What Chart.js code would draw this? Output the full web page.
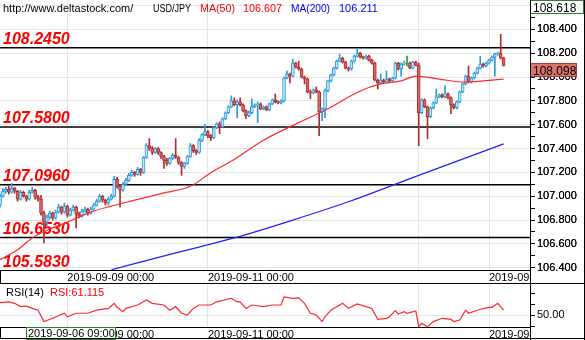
<!DOCTYPE html>
<html><head><meta charset="utf-8">
<script src="https://cdn.jsdelivr.net/npm/chart.js@4.4.1/dist/chart.umd.min.js"></script>
<style>
html,body{margin:0;padding:0;background:#fff;overflow:hidden}
#wrap{position:relative;width:585px;height:340px;background:#fff}
#main{position:absolute;left:0;top:0}
#rsi{position:absolute;left:0;top:283px}
</style></head><body>
<div id="wrap">
<canvas id="main" width="585" height="283"></canvas>
<canvas id="rsi" width="585" height="57"></canvas>
</div>
<script>
// ---------- data ----------
const sourceText = 'http://www.deltastock.com/';
const symbol = 'USD/JPY';
const ma50Now = '106.607';
const ma200Now = '106.211';
const rsiNow = '61.115';
const topPrice = 108.618;
const lastPrice = 108.098;
const cursorLabel = '2019-09-06 09:00';

const tradingDays = ['2019-09-06','2019-09-09','2019-09-10','2019-09-11','2019-09-12','2019-09-13','2019-09-16','2019-09-17'];
const firstHour = 1;   // first candle on first day
const lastSlotHour = 14; // last empty slot on last day

const open = [
106.925,107.000,107.042,107.058,107.033,107.067,107.042,106.975,107.033,107.000,
106.975,107.033,107.050,106.992,106.975,106.858,106.783,106.825,106.858,106.817,
106.867,106.908,106.867,106.917,106.842,106.883,106.908,106.850,106.833,106.875,
106.892,106.858,106.892,106.925,106.958,107.000,106.967,106.942,106.975,107.000,
107.142,107.083,107.050,107.100,107.133,107.175,107.200,107.183,107.225,107.200,
107.325,107.425,107.400,107.367,107.400,107.367,107.333,107.300,107.275,107.317,
107.342,107.325,107.283,107.250,107.275,107.333,107.425,107.383,107.367,107.467,
107.517,107.542,107.508,107.492,107.575,107.608,107.583,107.650,107.700,107.750,
107.800,107.767,107.792,107.767,107.717,107.675,107.700,107.750,107.767,107.775,
107.733,107.750,107.725,107.775,107.808,107.792,107.783,107.800,107.992,108.025,
108.008,108.117,108.083,108.067,108.000,107.983,107.875,107.867,107.892,107.875,
107.708,107.733,107.883,107.967,108.017,108.075,108.133,108.158,108.125,108.075,
108.067,108.133,108.175,108.200,108.167,108.158,108.175,108.142,108.117,107.975,
107.950,107.975,107.958,107.983,107.967,107.992,108.117,108.067,108.108,108.117,
108.117,108.075,108.125,108.100,107.700,107.808,107.750,107.667,107.742,107.783,
107.833,107.850,107.833,107.858,107.825,107.767,107.742,107.792,107.875,107.942,
108.008,107.958,107.992,108.033,108.075,108.108,108.092,108.117,108.142,108.167,
108.192,108.200,108.158];
const high = [
107.017,107.067,107.075,107.083,107.108,107.075,107.050,107.050,107.042,107.008,
107.050,107.075,107.058,107.008,107.008,106.875,106.842,106.875,106.867,106.883,
106.933,106.917,106.942,106.925,106.900,106.925,106.917,106.867,106.892,106.908,
106.900,106.908,106.942,106.975,107.017,107.008,106.975,106.992,107.017,107.167,
107.158,107.100,107.117,107.150,107.192,107.217,107.208,107.242,107.233,107.333,
107.442,107.483,107.417,107.408,107.408,107.375,107.342,107.317,107.325,107.358,
107.483,107.333,107.292,107.283,107.342,107.442,107.433,107.392,107.483,107.525,
107.600,107.550,107.517,107.583,107.617,107.625,107.658,107.708,107.758,107.842,
107.825,107.808,107.825,107.775,107.725,107.717,107.817,107.775,107.792,107.783,
107.758,107.758,107.783,107.817,107.858,107.800,107.808,108.000,108.050,108.033,
108.150,108.125,108.133,108.075,108.008,107.992,107.892,107.900,107.917,107.883,
107.742,107.900,107.975,108.025,108.083,108.142,108.192,108.167,108.133,108.083,
108.142,108.183,108.242,108.208,108.175,108.183,108.183,108.150,108.125,107.983,
108.025,107.983,108.050,107.992,108.000,108.125,108.125,108.117,108.133,108.175,
108.125,108.133,108.133,108.117,107.817,107.817,107.758,107.750,107.792,107.900,
107.858,107.858,107.925,107.867,107.833,107.775,107.800,107.883,107.950,108.017,
108.092,108.000,108.042,108.083,108.175,108.117,108.125,108.150,108.175,108.200,
108.208,108.358,108.167];
const low = [
106.908,106.992,107.025,107.017,107.025,107.025,106.958,106.967,106.992,106.958,
106.967,107.025,106.975,106.958,106.842,106.608,106.750,106.808,106.800,106.808,
106.858,106.850,106.858,106.825,106.833,106.875,106.733,106.817,106.825,106.867,
106.842,106.850,106.883,106.917,106.950,106.950,106.925,106.925,106.967,106.992,
107.067,106.908,107.042,107.092,107.125,107.167,107.167,107.175,107.175,107.192,
107.317,107.383,107.350,107.358,107.350,107.317,107.233,107.258,107.267,107.308,
107.317,107.267,107.175,107.233,107.267,107.325,107.367,107.350,107.358,107.458,
107.508,107.492,107.467,107.483,107.567,107.525,107.575,107.642,107.692,107.742,
107.758,107.658,107.758,107.708,107.650,107.667,107.692,107.742,107.617,107.725,
107.725,107.717,107.717,107.767,107.783,107.775,107.775,107.792,107.983,107.950,
108.000,108.075,108.058,107.992,107.942,107.867,107.817,107.858,107.867,107.508,
107.633,107.658,107.875,107.958,108.008,108.067,108.125,108.117,108.067,108.050,
108.058,108.125,108.167,108.158,108.150,108.150,108.133,108.108,107.967,107.900,
107.942,107.950,107.950,107.958,107.958,107.983,108.058,108.008,108.100,108.092,
108.067,108.067,108.092,107.425,107.692,107.742,107.483,107.658,107.733,107.775,
107.825,107.825,107.825,107.817,107.692,107.733,107.733,107.783,107.867,107.933,
107.950,107.950,107.983,108.025,108.067,108.083,108.083,108.108,108.133,108.008,
108.183,108.150,108.092];
const close = [
107.000,107.042,107.058,107.033,107.067,107.042,106.975,107.033,107.000,106.975,
107.033,107.050,106.992,106.975,106.858,106.783,106.825,106.858,106.817,106.867,
106.908,106.867,106.917,106.842,106.883,106.908,106.850,106.833,106.875,106.892,
106.858,106.892,106.925,106.958,107.000,106.967,106.942,106.975,107.000,107.142,
107.083,107.050,107.100,107.133,107.175,107.200,107.183,107.225,107.200,107.325,
107.425,107.400,107.367,107.400,107.367,107.333,107.300,107.275,107.317,107.342,
107.325,107.283,107.250,107.275,107.333,107.425,107.383,107.367,107.467,107.517,
107.542,107.508,107.492,107.575,107.608,107.583,107.650,107.700,107.750,107.800,
107.767,107.792,107.767,107.717,107.675,107.700,107.750,107.767,107.775,107.733,
107.750,107.725,107.775,107.808,107.792,107.783,107.800,107.992,108.025,108.008,
108.117,108.083,108.067,108.000,107.983,107.875,107.867,107.892,107.875,107.708,
107.733,107.883,107.967,108.017,108.075,108.133,108.158,108.125,108.075,108.067,
108.133,108.175,108.200,108.167,108.158,108.175,108.142,108.117,107.975,107.950,
107.975,107.958,107.983,107.967,107.992,108.117,108.067,108.108,108.117,108.117,
108.075,108.125,108.100,107.700,107.808,107.750,107.667,107.742,107.783,107.833,
107.850,107.833,107.858,107.825,107.767,107.742,107.792,107.875,107.942,108.008,
107.958,107.992,108.033,108.075,108.108,108.092,108.117,108.142,108.167,108.192,
108.200,108.158,108.098];

const ma50Idx = [0,6,11,17,23,31,38,46,55,65,72,80,90,102,112,123,130,137,142,150,158,165,172];
const ma50Val = [106.467,106.550,106.650,106.725,106.783,106.867,106.917,106.967,107.022,107.083,107.197,107.308,107.470,107.617,107.733,107.883,107.942,107.967,108.008,107.983,107.958,107.967,107.983];
const ma200Idx = [38,60,80,100,120,143,172];
const ma200Val = [106.383,106.525,106.650,106.800,106.962,107.175,107.439];

const rsiIdx = [0,3,5,7,9,11,13,15,18,22,23,26,30,33,37,39,40,42,43,47,50,52,56,58,60,62,64,66,68,72,74,79,81,82,84,86,90,93,96,97,100,102,104,106,108,110,111,113,117,119,122,125,127,129,132,133,135,136,138,139,142,143,144,146,148,151,154,155,157,159,160,164,167,168,170,172];
const rsiVal = [78,80,76.5,69,70,65,61,35,42.5,54,46,54,54,61,65,76.5,67.5,57.5,65,72.7,84,76.5,72.7,61,69,54,50,65,72.7,72.7,80,88,80,80,65,72.7,69,72.7,72.7,91,88,89,76.5,54,50,35,46,61,76.5,65,75,69,65,40,42.5,46,60,52,57.5,54,59,23.5,31,23.5,35,42.5,40,35,38.6,61,54,63,67.5,67.5,76.5,61.115];

const levels = [108.2450, 107.5800, 107.0960, 106.6530, 105.5830];
// axis ticks: every 0.1 gets a tick mark, every 0.2 gets a label
const priceTicks = [106.4,106.5,106.6,106.7,106.8,106.9,107.0,107.1,107.2,107.3,107.4,107.5,107.6,107.7,107.8,107.9,108.0,108.1,108.2,108.3,108.4,108.5,108.6];
const priceTickLabels = ['106.400','106.600','106.800','107.000','107.200','107.400','107.600','107.800','108.000','108.200','108.400','108.600'];
const rsiTicks = [25, 50, 75, 100];
const rsiLabelled = [50];
const xLabelTimes = ['2019-09-09 00:00','2019-09-11 00:00','2019-09-17 00:00'];
const xGridTimes = ['2019-09-09 00:00','2019-09-11 00:00','2019-09-16 00:00','2019-09-17 00:00'];

// ---------- categories (hourly slots) ----------
const labels = [];
tradingDays.forEach((d, k) => {
  const h0 = k === 0 ? firstHour : 0;
  const h1 = k === tradingDays.length - 1 ? lastSlotHour : 23;
  for (let h = h0; h <= h1; h++) labels.push(d + ' ' + String(h).padStart(2,'0') + ':00');
});
const xLabelIdx = xLabelTimes.map(t => labels.indexOf(t));
const xGridIdx = xGridTimes.map(t => labels.indexOf(t));

// ---------- styling ----------
const FONT = '"Liberation Sans", Arial, sans-serif';
Chart.defaults.font.family = FONT;
Chart.defaults.font.size = 11;
Chart.defaults.color = '#000';
const UP_LINE = '#2c9bd9', UP_FILL = '#c4e4f7';
const DN_LINE = '#b22b2b', DN_FILL = '#d46b6b';
const DOJI = '#2a9a2a';
const GRID = '#e6e6e6';
const Y_MIN = 106.381, Y_MAX = 108.646;
const RSI_MIN = 22.73, RSI_MAX = 122.73;

const dir = open.map((o, i) => close[i] > o ? 1 : (close[i] < o ? -1 : 0));
const lineCol = dir.map(d => d > 0 ? UP_LINE : (d < 0 ? DN_LINE : DOJI));
const fillCol = dir.map(d => d > 0 ? UP_FILL : (d < 0 ? DN_FILL : DOJI));

const pts = (idx, vals) => idx.map((i, k) => ({x: labels[i], y: vals[k]}));
const isPriceLabel = v => priceTickLabels.includes(Number(v).toFixed(3));

const xScale = () => ({
  type: 'category',
  offset: false,
  afterFit(s) { s.height = 13; s.paddingLeft = 0; s.paddingRight = 0; },
  ticks: {
    autoSkip: false, maxRotation: 0, minRotation: 0, align: 'start', padding: 1,
    callback: (v, i) => xLabelIdx.includes(i) ? labels[i] : ''
  },
  grid: {
    offset: false, drawTicks: false,
    color: c => xGridIdx.includes(c.index) ? GRID : 'rgba(0,0,0,0)'
  },
  border: { color: '#000', width: 1 }
});

function line(ctx, x1, y1, x2, y2) { ctx.beginPath(); ctx.moveTo(x1, y1); ctx.lineTo(x2, y2); ctx.stroke(); }

// ---------- main chart ----------
const mainDeco = {
  id: 'mainDeco',
  beforeDatasetsDraw(chart) {
    const {ctx, chartArea: a, scales: {y}} = chart;
    ctx.save();
    ctx.fillStyle = '#fff';
    ctx.fillRect(a.right + 1, a.bottom + 1, chart.width - a.right - 1, chart.height - a.bottom - 1);
    ctx.strokeStyle = '#000'; ctx.lineWidth = 1.5;
    levels.forEach(v => {
      const py = y.getPixelForValue(v);
      if (py >= a.top && py <= a.bottom) line(ctx, a.left, py, a.right, py);
    });
    ctx.font = 'italic bold 16px ' + FONT;
    ctx.fillStyle = '#ff0000'; ctx.textAlign = 'left'; ctx.textBaseline = 'alphabetic';
    levels.forEach(v => {
      const py = Math.min(y.getPixelForValue(v) - 4, a.bottom - 3);
      ctx.fillText(v.toFixed(4), 3, py);
    });
    ctx.restore();
  },
  afterDraw(chart) {
    const {ctx, chartArea: a, scales: {y}} = chart;
    // make sure the axis labels sit on top of everything drawn so far
    y.drawLabels(a);
    ctx.save();
    ctx.font = '11px ' + FONT; ctx.textBaseline = 'alphabetic'; ctx.textAlign = 'left';
    [[sourceText,'#000',3,133],[symbol,'#000',153,38],['MA(50)','#ff0000',200,35],[ma50Now,'#ff0000',243,39],['MA(200)','#0000ff',291,39],[ma200Now,'#0000ff',339,39]]
      .forEach(([t,c,x,w]) => { ctx.fillStyle = c; ctx.fillText(t, x, 12, w); });
    // top box (axis maximum)
    ctx.fillStyle = '#fff'; ctx.fillRect(a.right + 1, 0.5, 53, 13);
    ctx.strokeStyle = '#2e7d32'; ctx.lineWidth = 1; ctx.strokeRect(a.right + 0.5, 0.5, 53, 13);
    ctx.fillStyle = '#000'; ctx.font = '12px ' + FONT; ctx.fillText(topPrice.toFixed(3), a.right + 3, 11.5);
    // last price box
    const py = y.getPixelForValue(lastPrice);
    const by = Math.round(py - 2) + 0.5;
    ctx.fillStyle = '#d9736c'; ctx.fillRect(a.right + 0.5, by, 46, 13);
    ctx.strokeStyle = '#a83c3c'; ctx.strokeRect(a.right + 0.5, by, 46, 13);
    ctx.fillStyle = '#000'; ctx.fillText(lastPrice.toFixed(3), a.right + 3, by + 11);
    // frame
    ctx.strokeStyle = '#000'; ctx.lineWidth = 1;
    line(ctx, a.right + 0.5, 0, a.right + 0.5, chart.height);
    line(ctx, chart.width - 0.5, 0, chart.width - 0.5, chart.height);
    line(ctx, 0.5, a.bottom, 0.5, chart.height);
    ctx.restore();
  }
};

new Chart(document.getElementById('main'), {
  type: 'bar',
  data: {
    labels,
    datasets: [
      { type: 'line', label: 'MA(50)', data: pts(ma50Idx, ma50Val), borderColor: '#ff2a2a', borderWidth: 1.2,
        pointRadius: 0, cubicInterpolationMode: 'monotone', order: 0 },
      { type: 'line', label: 'MA(200)', data: pts(ma200Idx, ma200Val), borderColor: '#2222ff', borderWidth: 1.3,
        pointRadius: 0, cubicInterpolationMode: 'monotone', order: 0 },
      { label: 'body', data: open.map((o, i) => [o, close[i]]), backgroundColor: fillCol, borderColor: lineCol,
        borderWidth: 1, borderSkipped: false, barThickness: 3, grouped: false, order: 1 },
      { label: 'wick', data: low.map((l, i) => [l, high[i]]), backgroundColor: lineCol, borderWidth: 0,
        barThickness: 1, grouped: false, order: 2 }
    ]
  },
  options: {
    responsive: false, animation: false, events: [],
    layout: { padding: 0 },
    plugins: { legend: { display: false }, tooltip: { enabled: false } },
    scales: {
      x: xScale(),
      y: {
        position: 'right', min: Y_MIN, max: Y_MAX,
        afterFit(s) { s.width = 55; s.paddingTop = 0; s.paddingBottom = 0; },
        afterBuildTicks(s) { s.ticks = priceTicks.map(v => ({ value: v })); },
        ticks: {
          autoSkip: false, z: 1, padding: 2, font: { size: 11 },
          callback: v => isPriceLabel(v) ? Number(v).toFixed(3) : ''
        },
        grid: {
          color: c => (c.tick && isPriceLabel(c.tick.value)) ? GRID : 'rgba(0,0,0,0)',
          tickColor: '#000', tickLength: 5
        },
        border: { color: '#000', width: 1 }
      }
    }
  },
  plugins: [mainDeco]
});

// ---------- RSI chart ----------
const rsiDeco = {
  id: 'rsiDeco',
  beforeDatasetsDraw(chart) {
    const {ctx, chartArea: a} = chart;
    ctx.save();
    ctx.fillStyle = '#fff';
    ctx.fillRect(a.right + 1, a.bottom + 1, chart.width - a.right - 1, chart.height - a.bottom - 1);
    ctx.restore();
  },
  afterDraw(chart) {
    const {ctx, chartArea: a} = chart;
    ctx.save();
    ctx.font = '11px ' + FONT; ctx.textBaseline = 'alphabetic'; ctx.textAlign = 'left';
    ctx.fillStyle = '#000'; ctx.fillText('RSI(14)', 6, 13);
    ctx.fillStyle = '#ff0000'; ctx.fillText('RSI:' + rsiNow, 50, 13);
    // cursor time box
    ctx.fillStyle = '#fff'; ctx.fillRect(26.5, a.bottom + 0.5, 89, 12);
    ctx.strokeStyle = '#2e7d32'; ctx.lineWidth = 1; ctx.strokeRect(26.5, a.bottom + 0.5, 89, 12);
    ctx.fillStyle = '#000'; ctx.fillText(cursorLabel, 28, a.bottom + 10);
    // frame
    ctx.strokeStyle = '#000';
    line(ctx, 0, 0.5, chart.width, 0.5);
    line(ctx, a.right + 0.5, 0, a.right + 0.5, chart.height);
    line(ctx, chart.width - 0.5, 0, chart.width - 0.5, chart.height);
    line(ctx, 0, chart.height - 1.5, chart.width, chart.height - 1.5);
    line(ctx, 0.5, a.bottom, 0.5, chart.height - 1);
    ctx.restore();
  }
};

new Chart(document.getElementById('rsi'), {
  type: 'line',
  data: {
    labels,
    datasets: [
      { label: 'RSI(14)', data: pts(rsiIdx, rsiVal), borderColor: '#ff2a2a', borderWidth: 1.2, pointRadius: 0, tension: 0 }
    ]
  },
  options: {
    responsive: false, animation: false, events: [],
    layout: { padding: 0 },
    plugins: { legend: { display: false }, tooltip: { enabled: false } },
    scales: {
      x: xScale(),
      y: {
        position: 'right', min: RSI_MIN, max: RSI_MAX,
        afterFit(s) { s.width = 55; s.paddingTop = 0; s.paddingBottom = 0; },
        afterBuildTicks(s) { s.ticks = rsiTicks.map(v => ({ value: v })); },
        ticks: { autoSkip: false, z: 1, padding: 2, callback: v => rsiLabelled.includes(v) ? v.toFixed(2) : '' },
        grid: {
          color: c => (c.tick && rsiLabelled.includes(c.tick.value)) ? GRID : 'rgba(0,0,0,0)',
          tickColor: '#000', tickLength: 5
        },
        border: { color: '#000', width: 1 }
      }
    }
  },
  plugins: [rsiDeco]
});
</script>
</body></html>
